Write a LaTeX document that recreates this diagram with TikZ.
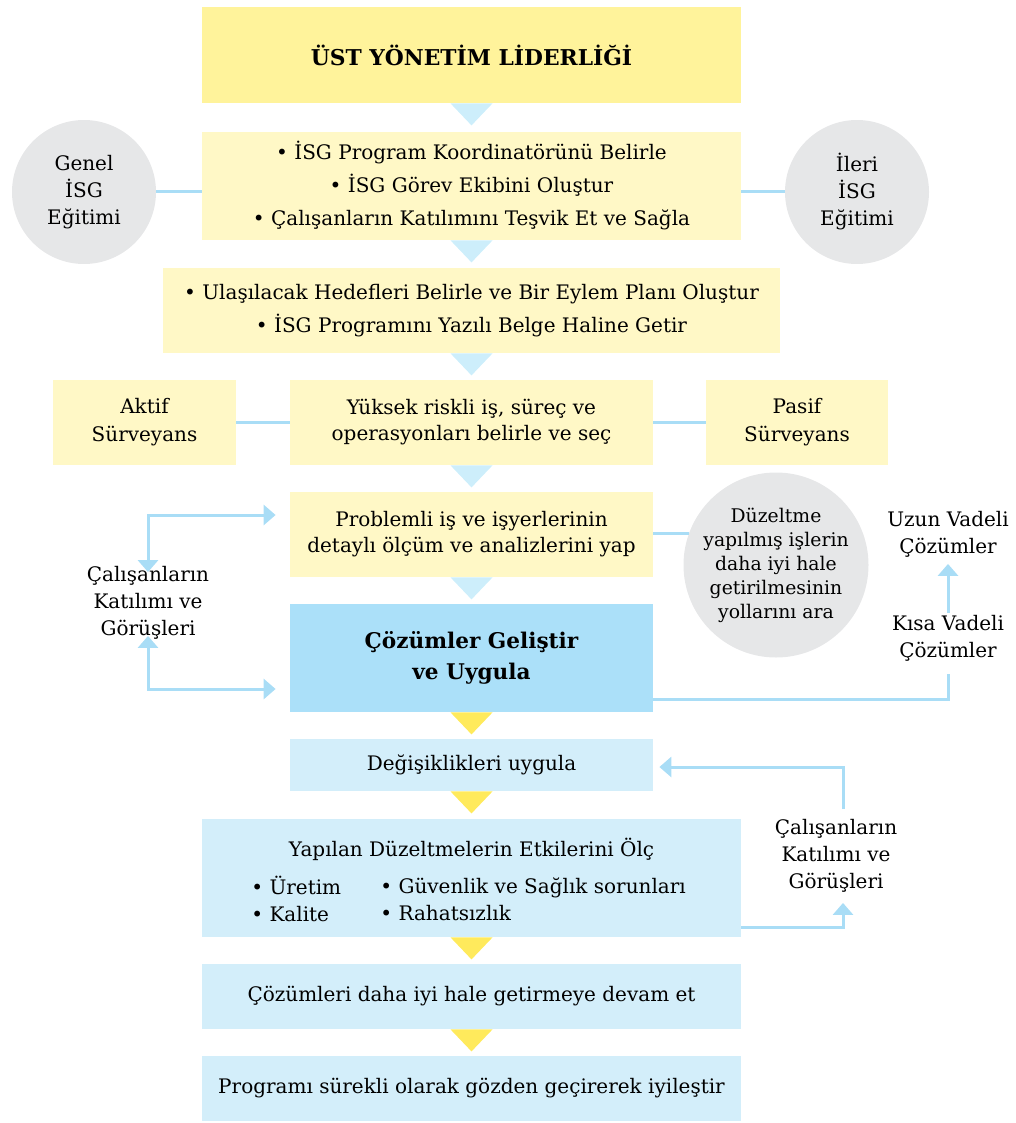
\documentclass[tikz,border=0pt]{standalone}
\usepackage{fontspec}
\setmainfont{DejaVu Serif}
\usepackage{tikz}
\usetikzlibrary{arrows.meta}
\definecolor{topyellow}{HTML}{FFF39B}
\definecolor{paleyellow}{HTML}{FFF8C6}
\definecolor{paleblue}{HTML}{D3EEFA}
\definecolor{midblue}{HTML}{ABE0F9}
\definecolor{triblue}{HTML}{CDEEFB}
\definecolor{triyellow}{HTML}{FFEA5C}
\definecolor{circgrey}{HTML}{E6E7E8}
\definecolor{linkblue}{HTML}{A9DDF6}
\tikzset{
      box/.style={rectangle, inner sep=0pt, align=center, font=\fontsize{10}{13}\selectfont},
      ybox/.style={box, fill=paleyellow},
      bbox/.style={box, fill=paleblue},
      disc/.style={circle, fill=circgrey, inner sep=0pt, align=center, font=\fontsize{10}{13.5}\selectfont},
      plain/.style={inner sep=1pt, align=center, font=\fontsize{10}{13.5}\selectfont},
      link/.style={draw=linkblue, line width=1.5pt},
      linkarrow/.style={link, -{Triangle[width=10pt,length=6pt]}},
      botharrow/.style={link, {Triangle[width=10pt,length=6pt]}-{Triangle[width=10pt,length=6pt]}},
      tri blue/.style={fill=triblue},
      tri yellow/.style={fill=triyellow},
}
\newcommand{\downtri}[2]{\fill[#1] ([xshift=-10.5pt]#2.south) -- ([xshift=10.5pt]#2.south) -- ([yshift=-11pt]#2.south) -- cycle;}

\begin{document}
\begin{tikzpicture}[x=0.5pt, y=-0.5pt]
        \useasboundingbox (0,0) rectangle (1016,1123);

        % main column
        \node[box, fill=topyellow, minimum width=269.5pt, minimum height=48pt, font=\fontsize{10.9}{13}\selectfont\bfseries] (top) at (471.5,55) {ÜST YÖNETİM LİDERLİĞİ};
        \node[ybox, minimum width=269.5pt, minimum height=54pt, font=\fontsize{10}{16.5}\selectfont] (ekip) at (471.5,186)
              {• İSG Program Koordinatörünü Belirle\\• İSG Görev Ekibini Oluştur\\• Çalışanların Katılımını Teşvik Et ve Sağla};
        \node[ybox, minimum width=308.5pt, minimum height=42.5pt, font=\fontsize{10}{16.5}\selectfont] (hedef) at (471.5,310.5)
              {• Ulaşılacak Hedefleri Belirle ve Bir Eylem Planı Oluştur\\• İSG Programını Yazılı Belge Haline Getir};
        \node[ybox, minimum width=181.5pt, minimum height=42.5pt] (risk) at (471.5,422.5) {Yüksek riskli iş, süreç ve\\operasyonları belirle ve seç};
        \node[ybox, minimum width=181.5pt, minimum height=42.5pt] (problem) at (471.5,534.5) {Problemli iş ve işyerlerinin\\detaylı ölçüm ve analizlerini yap};
        \node[box, fill=midblue, minimum width=181.5pt, minimum height=54pt, font=\fontsize{10.8}{15.5}\selectfont\bfseries] (cozum) at (471.5,658) {Çözümler Geliştir\\ve Uygula};
        \node[bbox, minimum width=181.5pt, minimum height=26pt] (degis) at (471.5,765) {Değişiklikleri uygula};
        \node[bbox, minimum width=269.5pt, minimum height=59pt] (olc) at (471.5,878) {};
        \node[plain] (olctitle) at (471.5,849) {Yapılan Düzeltmelerin Etkilerini Ölç};
        \node[plain, align=left, anchor=west] (olcleft) at (249,899) {• Üretim\\• Kalite};
        \node[plain, align=left, anchor=west] (olcright) at (378,899) {• Güvenlik ve Sağlık sorunları\\• Rahatsızlık};
        \node[bbox, minimum width=269.5pt, minimum height=32.5pt] (devam) at (471.5,996.5) {Çözümleri daha iyi hale getirmeye devam et};
        \node[bbox, minimum width=269.5pt, minimum height=32.5pt] (surekli) at (471.5,1088.5) {Programı sürekli olarak gözden geçirerek iyileştir};

        % side nodes
        \node[disc, minimum size=72pt] (genel) at (84,192) {Genel\\İSG\\Eğitimi};
        \node[disc, minimum size=72pt] (ileri) at (857,192) {İleri\\İSG\\Eğitimi};
        \node[ybox, minimum width=91.5pt, minimum height=42.5pt, font=\fontsize{10}{14}\selectfont] (aktif) at (144.5,422.5) {Aktif\\Sürveyans};
        \node[ybox, minimum width=91pt, minimum height=42.5pt, font=\fontsize{10}{14}\selectfont] (pasif) at (797,422.5) {Pasif\\Sürveyans};
        \node[disc, minimum size=88pt, font=\fontsize{9.4}{12}\selectfont] (duzelt) at (776,565) {Düzeltme\\yapılmış işlerin\\daha iyi hale\\getirilmesinin\\yollarını ara};
        \node[plain] (katilimL) at (148,603) {Çalışanların\\Katılımı ve\\Görüşleri};
        \node[plain] (uzun) at (948,534.5) {Uzun Vadeli\\Çözümler};
        \node[plain] (kisa) at (948,638.5) {Kısa Vadeli\\Çözümler};
        \node[plain] (katilimR) at (836,856) {Çalışanların\\Katılımı ve\\Görüşleri};

        % down triangles
        \downtri{tri blue}{top}
        \downtri{tri blue}{ekip}
        \downtri{tri blue}{hedef}
        \downtri{tri blue}{risk}
        \downtri{tri blue}{problem}
        \downtri{tri yellow}{cozum}
        \downtri{tri yellow}{degis}
        \downtri{tri yellow}{olc}
        \downtri{tri yellow}{devam}

        % links
        \draw[link] (genel.east) -- (genel.east -| ekip.west);
        \draw[link] (ileri.west -| ekip.east) -- (ileri.west);
        \draw[link] (aktif.east) -- (risk.west);
        \draw[link] (risk.east) -- (pasif.west);
        \draw[link] (problem.east |- duzelt.160) -- (duzelt.160);

        \draw[botharrow, shorten >=7pt] ([yshift=-4pt]katilimL.north) |- ([yshift=9.75pt]problem.west);
        \draw[botharrow, shorten >=7pt] ([yshift=3pt]katilimL.south) |- ([yshift=-15.5pt]cozum.west);

        \draw[linkarrow, shorten >=2pt] (kisa.north) -- (uzun.south);
        \draw[link, shorten >=5pt] ([yshift=-20.5pt]cozum.east) -| (kisa.south);

        \draw[linkarrow, shorten >=3pt] ([xshift=3.5pt,yshift=4pt]katilimR.north) |- ([yshift=-1pt]degis.east);
        \draw[linkarrow, shorten >=4pt] ([yshift=-24.5pt]olc.east) -| ([xshift=3.5pt]katilimR.south);

\end{tikzpicture}
\end{document}
